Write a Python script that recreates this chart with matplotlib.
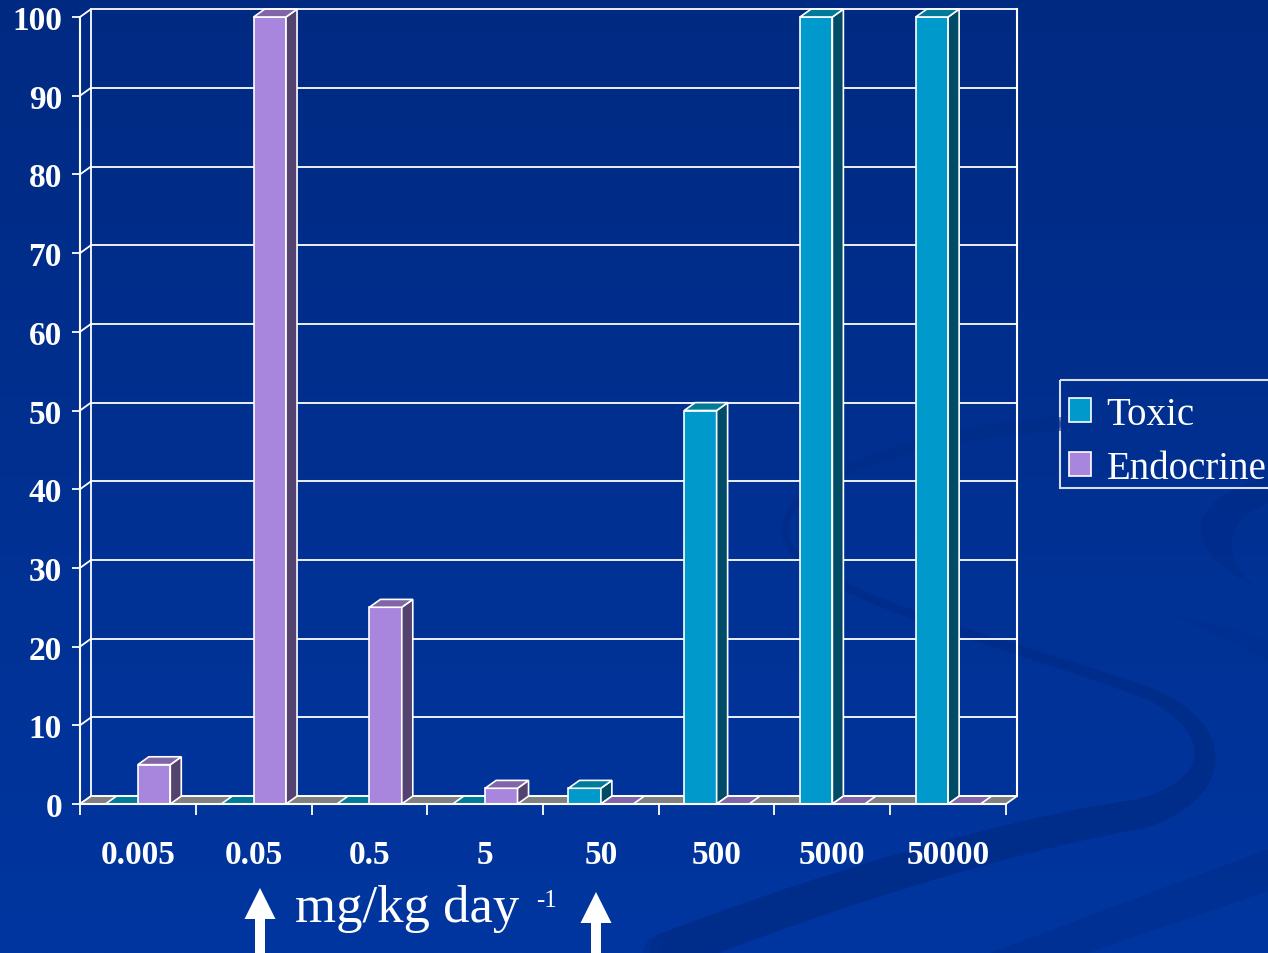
import numpy as np
import matplotlib
matplotlib.use("Agg")
import matplotlib.pyplot as plt
from matplotlib.patches import Polygon, Rectangle, FancyArrow, PathPatch
from matplotlib.path import Path
from matplotlib.collections import LineCollection

# ---- data -------------------------------------------------------------
categories = ["0.005", "0.05", "0.5", "5", "50", "500", "5000", "50000"]
toxic = [0, 0, 0, 0, 2, 50, 100, 100]
endocrine = [5, 100, 25, 2, 0, 0, 0, 0]
series_names = ["Toxic", "Endocrine"]
y_ticks = [0, 10, 20, 30, 40, 50, 60, 70, 80, 90, 100]

# ---- style ------------------------------------------------------------
plt.rcParams["font.family"] = ["Liberation Serif", "DejaVu Serif"]
W, H = 1268, 954
WHITE = "white"
FLOOR = "#808080"
colors = {
    "Toxic": dict(front="#0099CC", top="#007A99", side="#004C66"),
    "Endocrine": dict(front="#A886DD", top="#8066A8", side="#54436E"),
}
DX, DY = 0.095, 1.0      # depth offset of the 3-D effect (data units)
BW = 0.28                # bar width
LW = 1.2

fig = plt.figure(figsize=(W / 100, H / 100), dpi=100)

# ---- background -------------------------------------------------------
bg = fig.add_axes([0, 0, 1, 1], zorder=-10)
t = np.linspace(0, 1, 256)[:, None, None]
c_top = np.array([0x00, 0x2A, 0x82]) / 255
c_bot = np.array([0x00, 0x36, 0xA0]) / 255
grad = c_top + (c_bot - c_top) * t
bg.imshow(grad, extent=[0, W, H, 0], aspect="auto", interpolation="bilinear")
bg.set_xlim(0, W)
bg.set_ylim(H, 0)
bg.axis("off")


def bezier(p0, p1, p2, p3, n=60):
    s = np.linspace(0, 1, n)[:, None]
    p0, p1, p2, p3 = map(np.asarray, (p0, p1, p2, p3))
    return ((1 - s) ** 3) * p0 + 3 * ((1 - s) ** 2) * s * p1 + 3 * (1 - s) * s ** 2 * p2 + s ** 3 * p3


# decorative S-shaped ribbon with varying thickness (pixel widths)
ribbon = [
    (((1060, 425), (950, 430), (790, 470), (785, 530)), (14, 6)),
    (((785, 530), (780, 590), (1000, 640), (1150, 695)), (6, 12)),
    (((1150, 695), (1225, 730), (1225, 790), (1140, 815)), (12, 30)),
    (((1140, 815), (1040, 830), (850, 880), (650, 960)), (30, 40)),
]
SWOOSH = "#002C8A"
for ctrl, (w0, w1) in ribbon:
    pts = bezier(*ctrl)
    segs = np.stack([pts[:-1], pts[1:]], axis=1)
    widths = np.linspace(w0, w1, len(segs)) * 0.72
    bg.add_collection(LineCollection(segs, linewidths=widths, colors=SWOOSH,
                                     alpha=0.55, capstyle="round"))

crescent = Path(
    [(1268, 478), (1200, 495), (1165, 540), (1255, 588),
     (1222, 560), (1222, 520), (1268, 505), (1268, 478)],
    [Path.MOVETO, Path.CURVE4, Path.CURVE4, Path.CURVE4,
     Path.CURVE4, Path.CURVE4, Path.CURVE4, Path.LINETO],
)
bg.add_patch(PathPatch(crescent, fc=SWOOSH, ec="none", alpha=0.6))
bg.add_patch(Polygon([(1175, 616), (1268, 640), (1268, 662)],
                     closed=True, fc=SWOOSH, ec="none", alpha=0.3))
bg.add_patch(Polygon([(760, 1040), (1268, 850), (1268, 892), (780, 1060)],
                     closed=True, fc=SWOOSH, ec="none", alpha=0.55))

# ---- main axes --------------------------------------------------------
ax = fig.add_axes([80 / W, (H - 805) / H, 926 / W, 787 / H])
ax.set_xlim(-0.5, len(categories) - 0.5)
ax.set_ylim(0, 100)
ax.patch.set_alpha(0)
x_lo, x_hi = -0.5, len(categories) - 0.5

# back wall gridlines, side-wall connectors and wall edges
for v in y_ticks:
    ax.plot([x_lo + DX, x_hi + DX], [v + DY, v + DY], color=WHITE, lw=1.3,
            clip_on=False, zorder=1, solid_capstyle="butt")
    ax.plot([x_lo, x_lo + DX], [v, v + DY], color=WHITE, lw=1.3,
            clip_on=False, zorder=1)
ax.plot([x_lo + DX] * 2, [DY, 100 + DY], color=WHITE, lw=1.3, clip_on=False, zorder=1)
ax.plot([x_hi + DX] * 2, [DY, 100 + DY], color=WHITE, lw=1.5, clip_on=False, zorder=1)

# floor
ax.add_patch(Polygon([(x_lo, 0), (x_hi, 0), (x_hi + DX, DY), (x_lo + DX, DY)],
                     closed=True, fc=FLOOR, ec=WHITE, lw=LW, clip_on=False, zorder=2))

# bars
x = np.arange(len(categories))
z = 3
for i in range(len(categories)):
    for name, vals, off in ((series_names[0], toxic, -BW), (series_names[1], endocrine, 0.0)):
        h = vals[i]
        col = colors[name]
        x0 = x[i] + off
        if h > 0:
            ax.bar(x0, h, width=BW, align="edge", color=col["front"], edgecolor=WHITE,
                   lw=LW, zorder=z, clip_on=False)
            ax.add_patch(Polygon([(x0 + BW, 0), (x0 + BW, h), (x0 + BW + DX, h + DY),
                                  (x0 + BW + DX, DY)], closed=True, fc=col["side"],
                                 ec=WHITE, lw=LW, zorder=z, clip_on=False))
        ax.add_patch(Polygon([(x0, h), (x0 + BW, h), (x0 + BW + DX, h + DY), (x0 + DX, h + DY)],
                             closed=True, fc=col["top"], ec=WHITE, lw=LW, zorder=z,
                             clip_on=False))
        z += 1

# axes lines and ticks
for s in ("top", "right"):
    ax.spines[s].set_visible(False)
for s in ("left", "bottom"):
    ax.spines[s].set_color(WHITE)
    ax.spines[s].set_linewidth(1.5)
    ax.spines[s].set_zorder(50)

ax.set_yticks(y_ticks)
ax.set_yticklabels([str(v) for v in y_ticks], fontsize=24, fontweight="bold", color=WHITE)
ax.tick_params(axis="y", which="major", colors=WHITE, length=6, width=1.3, pad=7)

ax.set_xticks(np.arange(x_lo, x_hi + 0.01, 1.0))
ax.set_xticklabels([])
ax.tick_params(axis="x", which="major", colors=WHITE, length=8, width=1.3)
ax.set_xticks(x, minor=True)
ax.set_xticklabels(categories, minor=True, fontsize=24, fontweight="bold", color=WHITE)
ax.tick_params(axis="x", which="minor", length=0, pad=25, colors=WHITE)

# ---- unit label and arrows ---------------------------------------------
fig.text(295 / W, 1 - 922 / H, "mg/kg day", fontsize=38, color=WHITE,
         ha="left", va="baseline")
fig.text(536 / W, 1 - 907 / H, "-1", fontsize=18, color=WHITE, ha="left", va="baseline")
for ax_x, tip in ((260, 889), (596, 893)):
    bg.add_patch(FancyArrow(ax_x, H + 2, 0, tip - H - 2, width=10, head_width=31,
                            head_length=31, length_includes_head=True,
                            fc=WHITE, ec="none"))

# ---- legend -----------------------------------------------------------
bg.add_patch(Rectangle((1060, 381), 260, 108, fc="none", ec="#D8DEEE", lw=1.5))
handles = [Rectangle((0, 0), 1, 1, fc=colors[n]["front"], ec=WHITE, lw=1.2) for n in series_names]
leg = fig.legend(handles, series_names, loc="upper left",
                 bbox_to_anchor=(1060 / W, 1 - 388 / H), bbox_transform=fig.transFigure,
                 fontsize=28, frameon=False, borderaxespad=0,
                 borderpad=0.22, labelspacing=0.45, handlelength=0.58, handleheight=0.58,
                 handletextpad=0.4, labelcolor=WHITE)

fig.savefig("out.png", dpi=100)
